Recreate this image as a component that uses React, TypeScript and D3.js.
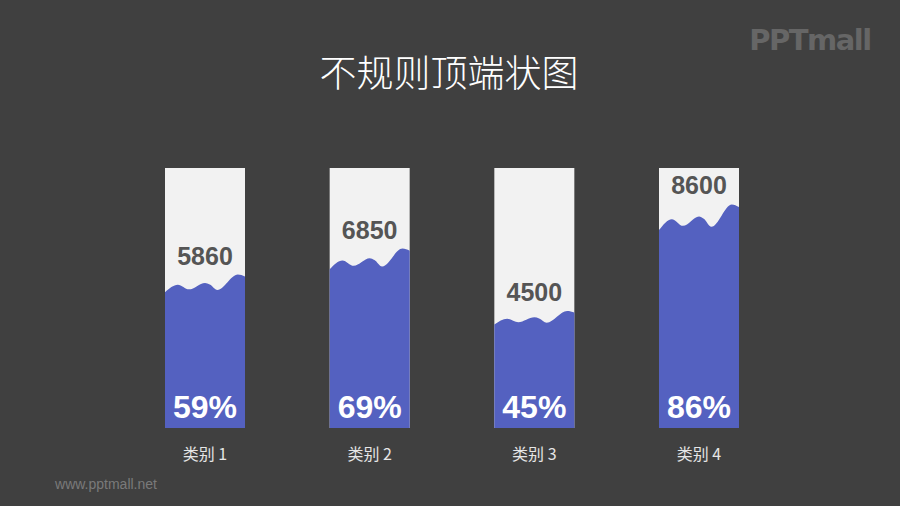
import React from "react";
import * as d3 from "d3";

const categories = ["类别 1", "类别 2", "类别 3", "类别 4"];
const values = [5860, 6850, 4500, 8600];
const percents = [59, 69, 45, 86];
const title = "不规则顶端状图";

// wave profile: [t across bar, depth as fraction of fill height]
const waveProfile: [number, number][] = [
  [0, 0.115], [0.16, 0.066], [0.3, 0.096], [0.5, 0.054], [0.56, 0.064],
  [0.655, 0.1], [0.91, 0], [1, 0.012],
];

const W = 900, H = 506;
const barW = 80;

export default function App() {
  const x = d3.scalePoint<string>().domain(categories).range([205, 699]);
  const y = d3.scaleLinear().domain([0, 100]).range([428, 168]);
  const font = "'Liberation Sans', Arial, sans-serif";
  const cjk = "'Noto Sans CJK SC', 'Noto Sans', sans-serif";

  return (
    <svg width={W} height={H} style={{ position: "fixed", left: 0, top: 0 }}>
      <rect width={W} height={H} fill="#404040" />
      <text x={449} y={87} textAnchor="middle" fill="#ffffff" fontFamily={cjk} fontSize={37} fontWeight={300}>{title}</text>
      <text x={810} y={50} textAnchor="middle" fill="#666666" fontFamily="'DejaVu Sans', sans-serif" fontSize={29} fontWeight="bold" letterSpacing={-1.5}>PPTmall</text>
      <text x={106} y={489} textAnchor="middle" fill="#7a7a7a" fontFamily={font} fontSize={14}>www.pptmall.net</text>
      {categories.map((c, i) => {
        const cx = x(c)!;
        const left = cx - barW / 2;
        const L = y(percents[i]);
        const fillH = y(0) - L;
        const area = d3.area<[number, number]>()
          .x(d => left + d[0] * barW)
          .y0(y(0))
          .y1(d => L + d[1] * fillH)
          .curve(d3.curveMonotoneX);
        return (
          <g key={c}>
            <rect x={left} y={y(100)} width={barW} height={y(0) - y(100)} fill="#f2f2f2" />
            <path d={area(waveProfile) || ""} fill="#5461c0" />
            <text x={cx} y={L - 10} textAnchor="middle" fill="#555555" fontFamily={font} fontSize={25} fontWeight="bold">{values[i]}</text>
            <text x={cx} y={418} textAnchor="middle" fill="#ffffff" fontFamily={font} fontSize={32} fontWeight="bold">{percents[i]}%</text>
            <text x={cx} y={460} textAnchor="middle" fill="#e6e6e6" fontFamily={cjk} fontSize={16}>{c}</text>
          </g>
        );
      })}
    </svg>
  );
}
